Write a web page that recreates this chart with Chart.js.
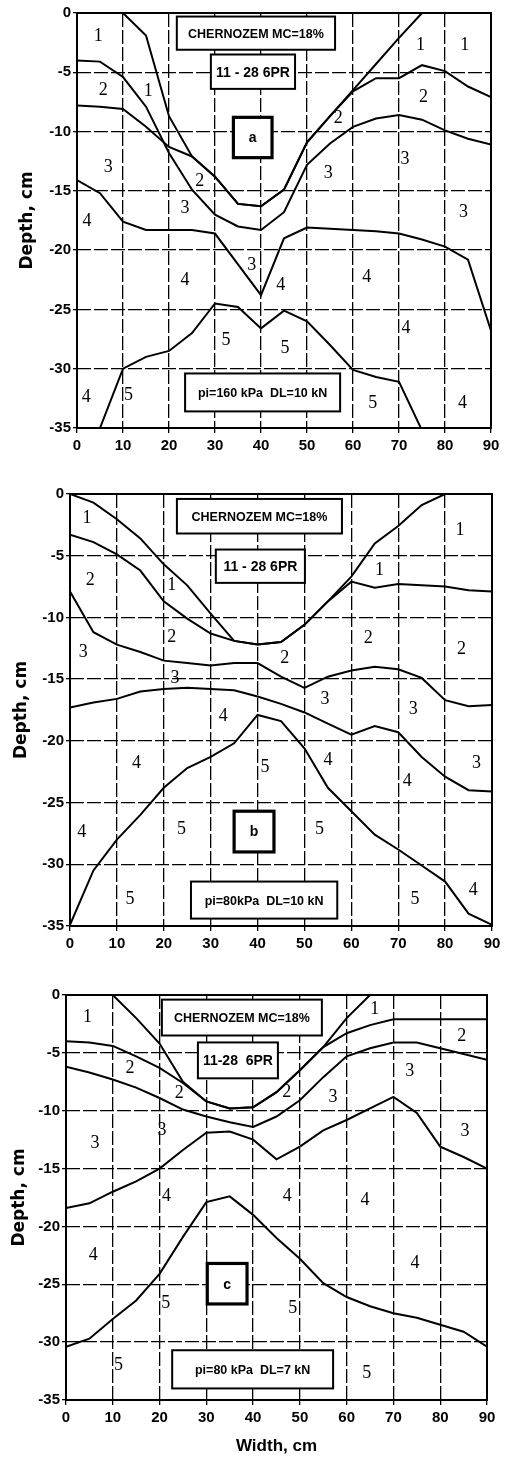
<!DOCTYPE html>
<html>
<head>
<meta charset="utf-8">
<script src="https://cdn.jsdelivr.net/npm/chart.js@4.4.1/dist/chart.umd.min.js"></script>
<style>
body { margin: 0; background: #fff; }
#wrap { position: relative; width: 510px; height: 1458px; }
canvas { position: absolute; left: 0; }
</style>
</head>
<body>
<div id="wrap">
<canvas id="chartA" width="510" height="465" style="top:0px"></canvas>
<canvas id="chartB" width="510" height="500" style="top:465px"></canvas>
<canvas id="chartC" width="510" height="493" style="top:965px"></canvas>
</div>
<script>
// width positions (cm) where every boundary is read
const widths = [0, 5, 10, 15, 20, 25, 30, 35, 40, 45, 50, 55, 60, 65, 70, 75, 80, 85, 90];
const widthTicks = [0, 10, 20, 30, 40, 50, 60, 70, 80, 90];
const depthTicks = [0, -5, -10, -15, -20, -25, -30, -35];

// (a) pi=160 kPa DL=10 kN
const aSurface = [0, 0, 0, -1.9, -8.7, -12.1, -13.8, -16.1, -16.3, -14.9, -10.9, -8.7, -6.5, -4.3, -2.1, 0, 0, 0, 0];
const aLineB = [-4, -4.1, -5.4, -7.9, -11.8, -14.9, -17, -18, -18.3, -16.8, -12.8, -11, -9.6, -8.9, -8.6, -9, -9.9, -10.6, -11.1];
const aLineC = [-7.8, -7.9, -8.1, -9.6, -11.3, -12.1, -13.8, -16.1, -16.3, -14.9, -10.9, -8.7, -6.6, -5.5, -5.5, -4.4, -4.9, -6.2, -7.1];
const aLineD = [-14.1, -15.2, -17.6, -18.3, -18.3, -18.3, -18.6, -21.2, -23.8, -19, -18.1, -18.2, -18.3, -18.4, -18.6, -19.1, -19.7, -20.8, -26.8];
const aLineE = [null, -35, -30, -29, -28.5, -27, -24.5, -24.8, -26.6, -25.1, -26, -28, -30.1, -30.7, -31.1, -35.2, null, null, null];

// (b) pi=80 kPa DL=10 kN
const bSurface = [0, -0.7, -2.05, -3.6, -5.7, -7.4, -9.7, -11.9, -12.2, -12, -10.6, -8.7, -6.7, -4, -2.6, -0.9, 0, 0, 0];
const bLineB = [-3.3, -3.9, -4.9, -6.2, -8.7, -10.1, -11.3, -11.9, -12.2, -12, -10.6, -8.7, -7.1, -7.6, -7.3, -7.4, -7.5, -7.8, -7.9];
const bLineC = [-7.9, -11.2, -12.2, -12.8, -13.5, -13.7, -13.9, -13.7, -13.7, -14.8, -15.7, -14.8, -14.3, -14, -14.2, -14.9, -16.7, -17.2, -17.1];
const bLineD = [-17.3, -16.9, -16.6, -16, -15.8, -15.7, -15.8, -15.9, -16.4, -17, -17.7, -18.6, -19.5, -18.8, -19.3, -21.3, -22.9, -24, -24.1];
const bLineE = [-34.9, -30.5, -28, -26, -23.8, -22.2, -21.3, -20.2, -17.9, -18.4, -20.6, -23.8, -25.7, -27.6, -28.8, -30.1, -31.4, -34, -34.9];

// (c) pi=80 kPa DL=7 kN
const cSurface = [0, 0, 0, -2, -4.2, -7.5, -9.2, -9.8, -9.7, -8.4, -6.5, -4.5, -2, 0, 0, 0, 0, 0, 0];
const cLineB = [-4, -4.1, -4.4, -5.3, -6.3, -7.6, -9.2, -9.8, -9.7, -8.4, -6.5, -4.5, -3.3, -2.6, -2.1, -2.1, -2.1, -2.1, -2.1];
const cLineC = [-6.2, -6.7, -7.3, -8, -8.9, -9.9, -10.5, -11, -11.4, -10.5, -9.1, -7.1, -5.3, -4.6, -4.1, -4.1, -4.6, -5.1, -5.6];
const cLineD = [-18.4, -18, -17, -16.1, -15, -13.4, -11.9, -11.8, -12.5, -14.2, -13.1, -11.7, -10.8, -9.8, -8.8, -10.2, -13.1, -14, -15];
const cLineE = [-30.4, -29.7, -28, -26.4, -24.1, -20.9, -17.9, -17.4, -19, -21, -22.8, -24.9, -26.1, -26.9, -27.5, -27.9, -28.5, -29.1, -30.4];

// layer numbers written in the picture: [text, width, depth]
const aLayers = [["1",4.6,-2],["1",15.5,-6.6],["2",5.7,-6.5],["3",6.8,-13],["4",2.2,-17.6],["2",26.7,-14.2],["3",23.5,-16.5],
  ["4",23.5,-22.5],["3",38,-21.3],["4",44.3,-23],["3",54.6,-13.5],["2",56.8,-8.9],["1",74.7,-2.7],["1",84.3,-2.7],["2",75.3,-7.1],
  ["3",71.3,-12.3],["3",84,-16.8],["4",63,-22.3],["5",32.4,-27.6],["5",45.2,-28.3],["4",71.5,-26.6],["4",2,-32.4],["5",11.2,-32.2],
  ["5",64.3,-32.9],["4",83.8,-32.9]];
const bLayers = [["1",3.6,-2],["2",4.3,-7],["3",2.8,-12.8],["4",14.2,-21.8],["4",2.5,-27.4],["5",12.8,-32.8],["1",21.7,-7.4],
  ["2",21.7,-11.6],["3",22.4,-14.9],["4",32.7,-18],["5",23.8,-27.2],["5",41.6,-22.1],["2",45.8,-13.3],["3",54.4,-16.6],["4",55,-21.6],
  ["5",53.2,-27.2],["1",66,-6.2],["2",63.6,-11.7],["3",73.2,-17.4],["4",71.9,-23.3],["5",73.6,-32.8],["1",83.2,-2.9],["2",83.5,-12.6],
  ["3",86.7,-21.8],["4",86,-32.1]];
const cLayers = [["1",4.6,-1.9],["2",13.7,-6.3],["2",24.2,-8.5],["2",47.2,-8.4],["3",6.2,-12.8],["3",20.5,-11.7],["3",57.1,-8.8],
  ["3",85.3,-11.8],["1",66,-1.2],["2",84.6,-3.6],["3",73.5,-6.6],["4",21.5,-17.4],["4",5.8,-22.5],["4",47.3,-17.4],["4",63.9,-17.7],
  ["4",74.6,-23.2],["5",21.3,-26.6],["5",11.2,-32],["5",48.5,-27.1],["5",64.3,-32.7]];

const aTexts = ["CHERNOZEM MC=18%", "11 - 28 6PR", "a", "pi=160 kPa  DL=10 kN"];
const bTexts = ["CHERNOZEM MC=18%", "11 - 28 6PR", "b", "pi=80kPa  DL=10 kN"];
const cTexts = ["CHERNOZEM MC=18%", "11-28  6PR", "c", "pi=80 kPa  DL=7 kN"];

// box corners in data units, same order as the texts
const aBoxes = [[21.7,-0.3,56.1,-3.1],[29.1,-3.5,47.4,-6.4],[34,-8.8,42.4,-12.2],[23.5,-30.4,57.2,-33.6]];
const bBoxes = [[22.8,-0.4,58,-3.2],[31.1,-4.5,50.1,-7.2],[35,-25.7,43.5,-29],[25.8,-31.4,57,-34.4]];
const cBoxes = [[20.5,-0.4,54.7,-3.5],[28.2,-4.1,45.3,-7.2],[30.2,-23.2,38.7,-26.7],[22.7,-30.7,57.1,-34]];
const boxFonts = ['bold 12.5px "Liberation Sans"', 'bold 14px "Liberation Sans"', 'bold 14px "Liberation Sans"', 'bold 12.5px "Liberation Sans"'];
const boxWidths = [2, 2, 3.2, 2];

function notesPlugin(layers, texts, boxes) {
  return {
    id: 'notes',
    afterDatasetsDraw: function(chart) {
      const ctx = chart.ctx;
      const xs = chart.scales.x, ys = chart.scales.y;
      const area = chart.chartArea;
      ctx.save();
      ctx.strokeStyle = '#000';
      ctx.lineWidth = 2;
      ctx.strokeRect(area.left, area.top, area.right - area.left, area.bottom - area.top);

      boxes.forEach(function(b, i) {
        const x1 = xs.getPixelForValue(b[0]), y1 = ys.getPixelForValue(b[1]);
        const x2 = xs.getPixelForValue(b[2]), y2 = ys.getPixelForValue(b[3]);
        ctx.fillStyle = '#fff';
        ctx.fillRect(x1, y1, x2 - x1, y2 - y1);
        ctx.lineWidth = boxWidths[i];
        ctx.strokeRect(x1, y1, x2 - x1, y2 - y1);
        ctx.fillStyle = '#000';
        ctx.font = boxFonts[i];
        ctx.textAlign = 'center';
        ctx.textBaseline = 'middle';
        ctx.fillText(texts[i], (x1 + x2) / 2, (y1 + y2) / 2 + 1);
      });

      ctx.font = '18px "Liberation Serif"';
      ctx.fillStyle = '#000';
      ctx.textAlign = 'center';
      ctx.textBaseline = 'middle';
      layers.forEach(function(l) {
        ctx.fillText(l[0], xs.getPixelForValue(l[1]), ys.getPixelForValue(l[2]));
      });
      ctx.restore();
    }
  };
}

function makeChart(id, series, layers, texts, boxes, pad, yWidth, xHeight, titlePad, showX) {
  const ctx = document.getElementById(id).getContext('2d');
  return new Chart(ctx, {
    type: 'line',
    data: {
      datasets: series.map(function(s) {
        return {
          data: s.map(function(v, i) { return { x: widths[i], y: v }; }),
          borderColor: '#000',
          borderWidth: 2,
          pointRadius: 0,
          tension: 0,
          fill: false,
          spanGaps: false
        };
      })
    },
    options: {
      responsive: false,
      animation: false,
      layout: { padding: pad },
      plugins: { legend: { display: false }, tooltip: { enabled: false } },
      scales: {
        x: {
          type: 'linear',
          min: 0,
          max: 90,
          afterBuildTicks: function(s) { s.ticks = widthTicks.map(function(v) { return { value: v }; }); },
          afterFit: function(s) { s.height = xHeight; },
          ticks: { color: '#000', font: { family: '"Liberation Sans"', size: 15, weight: 'bold' }, padding: 4, maxRotation: 0 },
          grid: { color: '#000', lineWidth: 1.3, tickLength: 5, tickColor: '#000' },
          border: { display: false, dash: [14, 3] },
          title: { display: showX, text: 'Width, cm', color: '#000', font: { family: '"Liberation Sans"', size: 17, weight: 'bold' }, padding: { top: 0, bottom: 1 } }
        },
        y: {
          type: 'linear',
          min: -35,
          max: 0,
          afterBuildTicks: function(s) { s.ticks = depthTicks.map(function(v) { return { value: v }; }); },
          afterFit: function(s) { s.width = yWidth; },
          ticks: { color: '#000', font: { family: '"Liberation Sans"', size: 15, weight: 'bold' }, padding: 2 },
          grid: { color: '#000', lineWidth: 1.3, tickLength: 4, tickColor: '#000' },
          border: { display: false, dash: [14, 3] },
          title: { display: true, text: 'Depth, cm', color: '#000', font: { family: '"DejaVu Sans"', size: 17, weight: 'bold' }, padding: { top: titlePad, bottom: 0 } }
        }
      }
    },
    plugins: [notesPlugin(layers, texts, boxes)]
  });
}

makeChart('chartA', [aSurface, aLineB, aLineC, aLineD, aLineE], aLayers, aTexts, aBoxes,
  { top: 13, right: 19, left: 0, bottom: 0 }, 77, 37, 17, false);
makeChart('chartB', [bSurface, bLineB, bLineC, bLineD, bLineE], bLayers, bTexts, bBoxes,
  { top: 29, right: 18, left: 0, bottom: 0 }, 70, 39, 11, false);
makeChart('chartC', [cSurface, cLineB, cLineC, cLineD, cLineE], cLayers, cTexts, cBoxes,
  { top: 30, right: 23, left: 0, bottom: 0 }, 66, 58, 9, true);
</script>
</body>
</html>
